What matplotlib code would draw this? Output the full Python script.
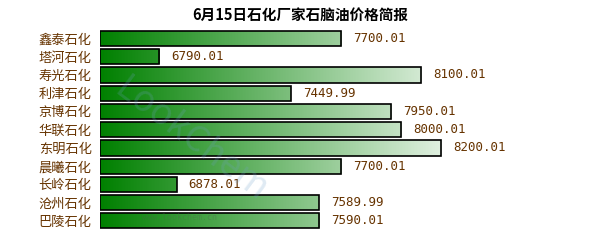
import numpy as np
import matplotlib.pyplot as plt
from matplotlib.colors import LinearSegmentedColormap

plt.rcParams['font.family'] = ['Noto Sans CJK SC', 'DejaVu Sans']

# 6月15日 各石化厂家石脑油价格
companies = ['鑫泰石化', '塔河石化', '寿光石化', '利津石化', '京博石化', '华联石化',
             '东明石化', '晨曦石化', '长岭石化', '沧州石化', '巴陵石化']
prices = [7700.01, 6790.01, 8100.01, 7449.99, 7950.01, 8000.01,
          8200.01, 7700.01, 6878.01, 7589.99, 7590.01]

brown = '#663300'
cmap = LinearSegmentedColormap.from_list('grn', ['#008000', '#e6f3e6'])

fig = plt.figure(figsize=(6, 2.5), dpi=100)
ax = fig.add_axes([100 / 600, 1 - 230 / 250, 460 / 600, 200.6 / 250])

x0, x1 = 6495, 8795
grad_end = x0 + 350 * 5  # gradient fades out around pixel 450
y = np.arange(len(companies))
bars = ax.barh(y, [p - x0 for p in prices], left=x0, height=0.83,
               facecolor='none', edgecolor='black', linewidth=1.2, zorder=3)

grad = np.linspace(0, 1, 256).reshape(1, -1)
for b in bars:
    im = ax.imshow(grad, cmap=cmap, aspect='auto', zorder=2,
                   extent=[x0, grad_end, b.get_y() + b.get_height(), b.get_y()])
    im.set_clip_path(b)

for yi, p in zip(y, prices):
    ax.text(p + 60, yi, f'{p:.2f}', va='center', ha='left', fontsize=9,
            color=brown, family=['DejaVu Sans Mono'])

ax.set_xlim(x0, x1)
ax.set_ylim(len(companies) - 0.5, -0.5)
ax.set_yticks(y)
ax.set_yticklabels(companies, fontsize=9.5, color=brown)
ax.tick_params(axis='y', length=0, pad=6)
ax.set_xticks([])
for s in ax.spines.values():
    s.set_visible(False)

# watermark
fig.text(0.318, 0.44, 'LookChem', rotation=-37, fontsize=26, color='#6fa0c8',
         alpha=0.22, ha='center', va='center')
fig.text(0.3, 0.13, 'www.lookchem.cn', fontsize=6, color='#555555', alpha=0.3,
         ha='center', va='center', family=['DejaVu Sans Mono'])

fig.text(0.5, 1 - 15 / 250, '6月15日石化厂家石脑油价格简报', ha='center', va='center',
         fontsize=10.5, fontweight='bold', color='black')

fig.savefig('out.png', dpi=100)
